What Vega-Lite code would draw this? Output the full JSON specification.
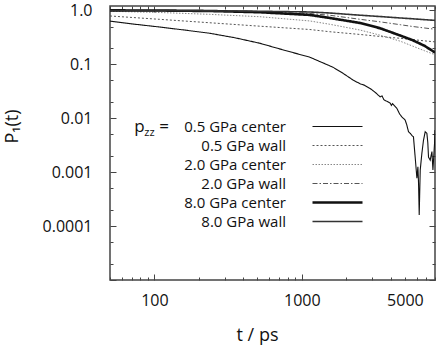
{
  "$schema": "https://vega.github.io/schema/vega-lite/v6.json",
  "width": 325,
  "height": 274,
  "autosize": {"type": "none"},
  "padding": {"left": 110, "top": 6, "right": 1, "bottom": 70},
  "background": "white",
  "config": {
    "view": {"stroke": "#444", "strokeWidth": 1.5},
    "font": "Open Sans",
    "axis": {"domain": false, "grid": false, "labelFont": "Open Sans", "labelFontSize": 16, "labelColor": "#111", "tickColor": "#444", "tickWidth": 1, "titleFont": "Open Sans", "titleFontWeight": "normal", "titleFontSize": 18, "titleColor": "#111", "labelOverlap": false, "labelFlush": false, "labelBound": false}
  },
  "data": {"values": [
    {"series": "0.5 GPa center", "t": 50, "p": 0.63},
    {"series": "0.5 GPa center", "t": 70, "p": 0.56},
    {"series": "0.5 GPa center", "t": 108, "p": 0.49},
    {"series": "0.5 GPa center", "t": 160, "p": 0.43},
    {"series": "0.5 GPa center", "t": 237, "p": 0.375},
    {"series": "0.5 GPa center", "t": 350, "p": 0.31},
    {"series": "0.5 GPa center", "t": 518, "p": 0.245},
    {"series": "0.5 GPa center", "t": 743, "p": 0.185},
    {"series": "0.5 GPa center", "t": 1132, "p": 0.135},
    {"series": "0.5 GPa center", "t": 1400, "p": 0.105},
    {"series": "0.5 GPa center", "t": 1626, "p": 0.088},
    {"series": "0.5 GPa center", "t": 1900, "p": 0.068},
    {"series": "0.5 GPa center", "t": 2223, "p": 0.051},
    {"series": "0.5 GPa center", "t": 2350, "p": 0.047},
    {"series": "0.5 GPa center", "t": 2500, "p": 0.043},
    {"series": "0.5 GPa center", "t": 2650, "p": 0.041},
    {"series": "0.5 GPa center", "t": 2904, "p": 0.0355},
    {"series": "0.5 GPa center", "t": 3150, "p": 0.030},
    {"series": "0.5 GPa center", "t": 3396, "p": 0.0248},
    {"series": "0.5 GPa center", "t": 3500, "p": 0.0258},
    {"series": "0.5 GPa center", "t": 3600, "p": 0.022},
    {"series": "0.5 GPa center", "t": 3973, "p": 0.019},
    {"series": "0.5 GPa center", "t": 4050, "p": 0.0172},
    {"series": "0.5 GPa center", "t": 4120, "p": 0.0186},
    {"series": "0.5 GPa center", "t": 4406, "p": 0.0153},
    {"series": "0.5 GPa center", "t": 4600, "p": 0.012},
    {"series": "0.5 GPa center", "t": 4766, "p": 0.0106},
    {"series": "0.5 GPa center", "t": 5020, "p": 0.0092},
    {"series": "0.5 GPa center", "t": 5150, "p": 0.0075},
    {"series": "0.5 GPa center", "t": 5288, "p": 0.0056},
    {"series": "0.5 GPa center", "t": 5450, "p": 0.0052},
    {"series": "0.5 GPa center", "t": 5575, "p": 0.0048},
    {"series": "0.5 GPa center", "t": 5715, "p": 0.0045},
    {"series": "0.5 GPa center", "t": 5869, "p": 0.0019},
    {"series": "0.5 GPa center", "t": 5950, "p": 0.0012},
    {"series": "0.5 GPa center", "t": 6030, "p": 0.00077},
    {"series": "0.5 GPa center", "t": 6126, "p": 0.00125},
    {"series": "0.5 GPa center", "t": 6190, "p": 0.0006},
    {"series": "0.5 GPa center", "t": 6252, "p": 0.00016},
    {"series": "0.5 GPa center", "t": 6352, "p": 0.00109},
    {"series": "0.5 GPa center", "t": 6520, "p": 0.00225},
    {"series": "0.5 GPa center", "t": 6684, "p": 0.0039},
    {"series": "0.5 GPa center", "t": 6867, "p": 0.0056},
    {"series": "0.5 GPa center", "t": 7050, "p": 0.0052},
    {"series": "0.5 GPa center", "t": 7150, "p": 0.0035},
    {"series": "0.5 GPa center", "t": 7228, "p": 0.0019},
    {"series": "0.5 GPa center", "t": 7424, "p": 0.00167},
    {"series": "0.5 GPa center", "t": 7625, "p": 0.0024},
    {"series": "0.5 GPa center", "t": 7745, "p": 0.00109},
    {"series": "0.5 GPa center", "t": 7943, "p": 0.0034},
    {"series": "0.5 GPa center", "t": 8000, "p": 0.006},

    {"series": "0.5 GPa wall", "t": 50, "p": 0.784},
    {"series": "0.5 GPa wall", "t": 108, "p": 0.68},
    {"series": "0.5 GPa wall", "t": 237, "p": 0.587},
    {"series": "0.5 GPa wall", "t": 518, "p": 0.507},
    {"series": "0.5 GPa wall", "t": 1132, "p": 0.44},
    {"series": "0.5 GPa wall", "t": 1548, "p": 0.40},
    {"series": "0.5 GPa wall", "t": 2485, "p": 0.356},
    {"series": "0.5 GPa wall", "t": 3396, "p": 0.327},
    {"series": "0.5 GPa wall", "t": 4654, "p": 0.302},
    {"series": "0.5 GPa wall", "t": 5655, "p": 0.286},
    {"series": "0.5 GPa wall", "t": 6779, "p": 0.271},
    {"series": "0.5 GPa wall", "t": 8000, "p": 0.26},

    {"series": "2.0 GPa center", "t": 50, "p": 0.958},
    {"series": "2.0 GPa center", "t": 108, "p": 0.91},
    {"series": "2.0 GPa center", "t": 237, "p": 0.84},
    {"series": "2.0 GPa center", "t": 518, "p": 0.76},
    {"series": "2.0 GPa center", "t": 1132, "p": 0.634},
    {"series": "2.0 GPa center", "t": 1548, "p": 0.55},
    {"series": "2.0 GPa center", "t": 2485, "p": 0.43},
    {"series": "2.0 GPa center", "t": 3396, "p": 0.345},
    {"series": "2.0 GPa center", "t": 4654, "p": 0.267},
    {"series": "2.0 GPa center", "t": 5655, "p": 0.216},
    {"series": "2.0 GPa center", "t": 6779, "p": 0.178},
    {"series": "2.0 GPa center", "t": 8000, "p": 0.15},

    {"series": "2.0 GPa wall", "t": 50, "p": 0.995},
    {"series": "2.0 GPa wall", "t": 108, "p": 0.99},
    {"series": "2.0 GPa wall", "t": 237, "p": 0.975},
    {"series": "2.0 GPa wall", "t": 518, "p": 0.94},
    {"series": "2.0 GPa wall", "t": 1132, "p": 0.87},
    {"series": "2.0 GPa wall", "t": 1548, "p": 0.808},
    {"series": "2.0 GPa wall", "t": 2485, "p": 0.68},
    {"series": "2.0 GPa wall", "t": 3396, "p": 0.61},
    {"series": "2.0 GPa wall", "t": 4654, "p": 0.54},
    {"series": "2.0 GPa wall", "t": 5655, "p": 0.50},
    {"series": "2.0 GPa wall", "t": 6779, "p": 0.47},
    {"series": "2.0 GPa wall", "t": 8000, "p": 0.445},

    {"series": "8.0 GPa center", "t": 50, "p": 0.995},
    {"series": "8.0 GPa center", "t": 108, "p": 0.99},
    {"series": "8.0 GPa center", "t": 237, "p": 0.97},
    {"series": "8.0 GPa center", "t": 518, "p": 0.92},
    {"series": "8.0 GPa center", "t": 1132, "p": 0.82},
    {"series": "8.0 GPa center", "t": 1548, "p": 0.72},
    {"series": "8.0 GPa center", "t": 2485, "p": 0.58},
    {"series": "8.0 GPa center", "t": 3396, "p": 0.464},
    {"series": "8.0 GPa center", "t": 4654, "p": 0.34},
    {"series": "8.0 GPa center", "t": 5655, "p": 0.278},
    {"series": "8.0 GPa center", "t": 6779, "p": 0.22},
    {"series": "8.0 GPa center", "t": 8000, "p": 0.165},

    {"series": "8.0 GPa wall", "t": 50, "p": 0.99},
    {"series": "8.0 GPa wall", "t": 108, "p": 0.985},
    {"series": "8.0 GPa wall", "t": 237, "p": 0.975},
    {"series": "8.0 GPa wall", "t": 518, "p": 0.96},
    {"series": "8.0 GPa wall", "t": 1132, "p": 0.93},
    {"series": "8.0 GPa wall", "t": 1548, "p": 0.89},
    {"series": "8.0 GPa wall", "t": 2485, "p": 0.81},
    {"series": "8.0 GPa wall", "t": 3396, "p": 0.765},
    {"series": "8.0 GPa wall", "t": 4654, "p": 0.72},
    {"series": "8.0 GPa wall", "t": 5655, "p": 0.695},
    {"series": "8.0 GPa wall", "t": 6779, "p": 0.67},
    {"series": "8.0 GPa wall", "t": 8000, "p": 0.65}
  ]},
  "layer": [
    {
      "mark": {"type": "line", "clip": true},
      "encoding": {
        "x": {"field": "t", "type": "quantitative",
          "scale": {"type": "log", "domain": [50, 8000], "nice": false},
          "axis": {"orient": "bottom",
            "values": [50,60,70,80,90,100,200,300,400,500,600,700,800,900,1000,2000,3000,4000,5000,6000,7000,8000],
            "labelExpr": "datum.value==100?'100':datum.value==1000?'1000':datum.value==5000?'5000':''",
            "tickSize": {"condition": {"test": "datum.value==100||datum.value==1000", "value": -6}, "value": -3},
            "labelPadding": {"condition": {"test": "datum.value==5000", "value": 23}, "value": 26},
            "labelBaseline": "middle",
            "title": "t / ps", "titleX": 147, "titleY": 55, "titleBaseline": "middle", "titleAlign": "center"}},
        "y": {"field": "p", "type": "quantitative",
          "scale": {"type": "log", "domain": [0.00001, 1.2], "nice": false},
          "axis": {"orient": "left",
            "values": [1,0.5,0.2,0.1,0.05,0.02,0.01,0.005,0.002,0.001,0.0005,0.0002,0.0001,0.00005,0.00002,0.00001],
            "labelExpr": "datum.value==1?'1.0':datum.value==0.1?'0.1':datum.value==0.01?'0.01':datum.value==0.001?'0.001':datum.value==0.0001?'0.0001':''",
            "tickSize": {"condition": {"test": "datum.value==1||datum.value==0.1||datum.value==0.01||datum.value==0.001||datum.value==0.0001||datum.value==0.00001", "value": -6}, "value": -3},
            "labelPadding": 24,
            "title": "P₁(t)", "titleX": -98, "titleY": 120, "titleBaseline": "middle", "titleAlign": "center"}},
        "color": {"field": "series", "type": "nominal",
          "scale": {"domain": ["0.5 GPa center","0.5 GPa wall","2.0 GPa center","2.0 GPa wall","8.0 GPa center","8.0 GPa wall"],
                    "range": ["#111111","#555555","#888888","#555555","#111111","#333333"]},
          "legend": {"orient": "none", "legendX": 220, "legendY": 113, "title": null,
            "symbolType": "M-5,0H5", "symbolSize": 100, "rowPadding": 3,
            "labelAlign": "right", "labelOffset": -59, "labelFontSize": 15, "labelFont": "Open Sans",
            "labelColor": "#111", "padding": 0, "labelLimit": 200}},
        "strokeDash": {"field": "series", "type": "nominal",
          "scale": {"domain": ["0.5 GPa center","0.5 GPa wall","2.0 GPa center","2.0 GPa wall","8.0 GPa center","8.0 GPa wall"],
                    "range": [[1,0],[2,2],[1.5,1.5],[5,2,1.5,2],[1,0],[1,0]]}},
        "strokeWidth": {"field": "series", "type": "nominal",
          "scale": {"type": "ordinal", "domain": ["0.5 GPa center","0.5 GPa wall","2.0 GPa center","2.0 GPa wall","8.0 GPa center","8.0 GPa wall"],
                    "range": [1.1,1,1,1,2.6,1.6]}}
      }
    },
    {
      "mark": {"type": "line", "opacity": 0},
      "encoding": {
        "x": {"field": "t", "type": "quantitative",
          "axis": {"orient": "top", "labels": false, "title": null,
            "values": [50,60,70,80,90,100,200,300,400,500,600,700,800,900,1000,2000,3000,4000,5000,6000,7000,8000],
            "tickSize": {"condition": {"test": "datum.value==100||datum.value==1000", "value": -6}, "value": -3}}},
        "y": {"field": "p", "type": "quantitative",
          "axis": {"orient": "right", "labels": false, "title": null,
            "values": [1,0.5,0.2,0.1,0.05,0.02,0.01,0.005,0.002,0.001,0.0005,0.0002,0.0001,0.00005,0.00002,0.00001],
            "tickSize": {"condition": {"test": "datum.value==1||datum.value==0.1||datum.value==0.01||datum.value==0.001||datum.value==0.0001||datum.value==0.00001", "value": -6}, "value": -3}}},
        "detail": {"field": "series", "type": "nominal"}
      }
    },
    {
      "data": {"values": [{}]},
      "mark": {"type": "text", "text": "p", "align": "left", "baseline": "middle", "fontSize": 17, "font": "Open Sans", "color": "#111"},
      "encoding": {"x": {"datum": 73, "type": "quantitative", "axis": null}, "y": {"datum": 0.0069, "type": "quantitative", "axis": null}}
    },
    {
      "data": {"values": [{}]},
      "mark": {"type": "text", "text": "zz", "align": "left", "baseline": "middle", "fontSize": 11, "font": "Open Sans", "color": "#111", "dx": 10, "dy": 6},
      "encoding": {"x": {"datum": 73, "type": "quantitative", "axis": null}, "y": {"datum": 0.0069, "type": "quantitative", "axis": null}}
    },
    {
      "data": {"values": [{}]},
      "mark": {"type": "text", "text": "=", "align": "left", "baseline": "middle", "fontSize": 17, "font": "Open Sans", "color": "#111", "dx": 25},
      "encoding": {"x": {"datum": 73, "type": "quantitative", "axis": null}, "y": {"datum": 0.0069, "type": "quantitative", "axis": null}}
    }
  ],
  "resolve": {"axis": {"x": "independent", "y": "independent"}}
}
